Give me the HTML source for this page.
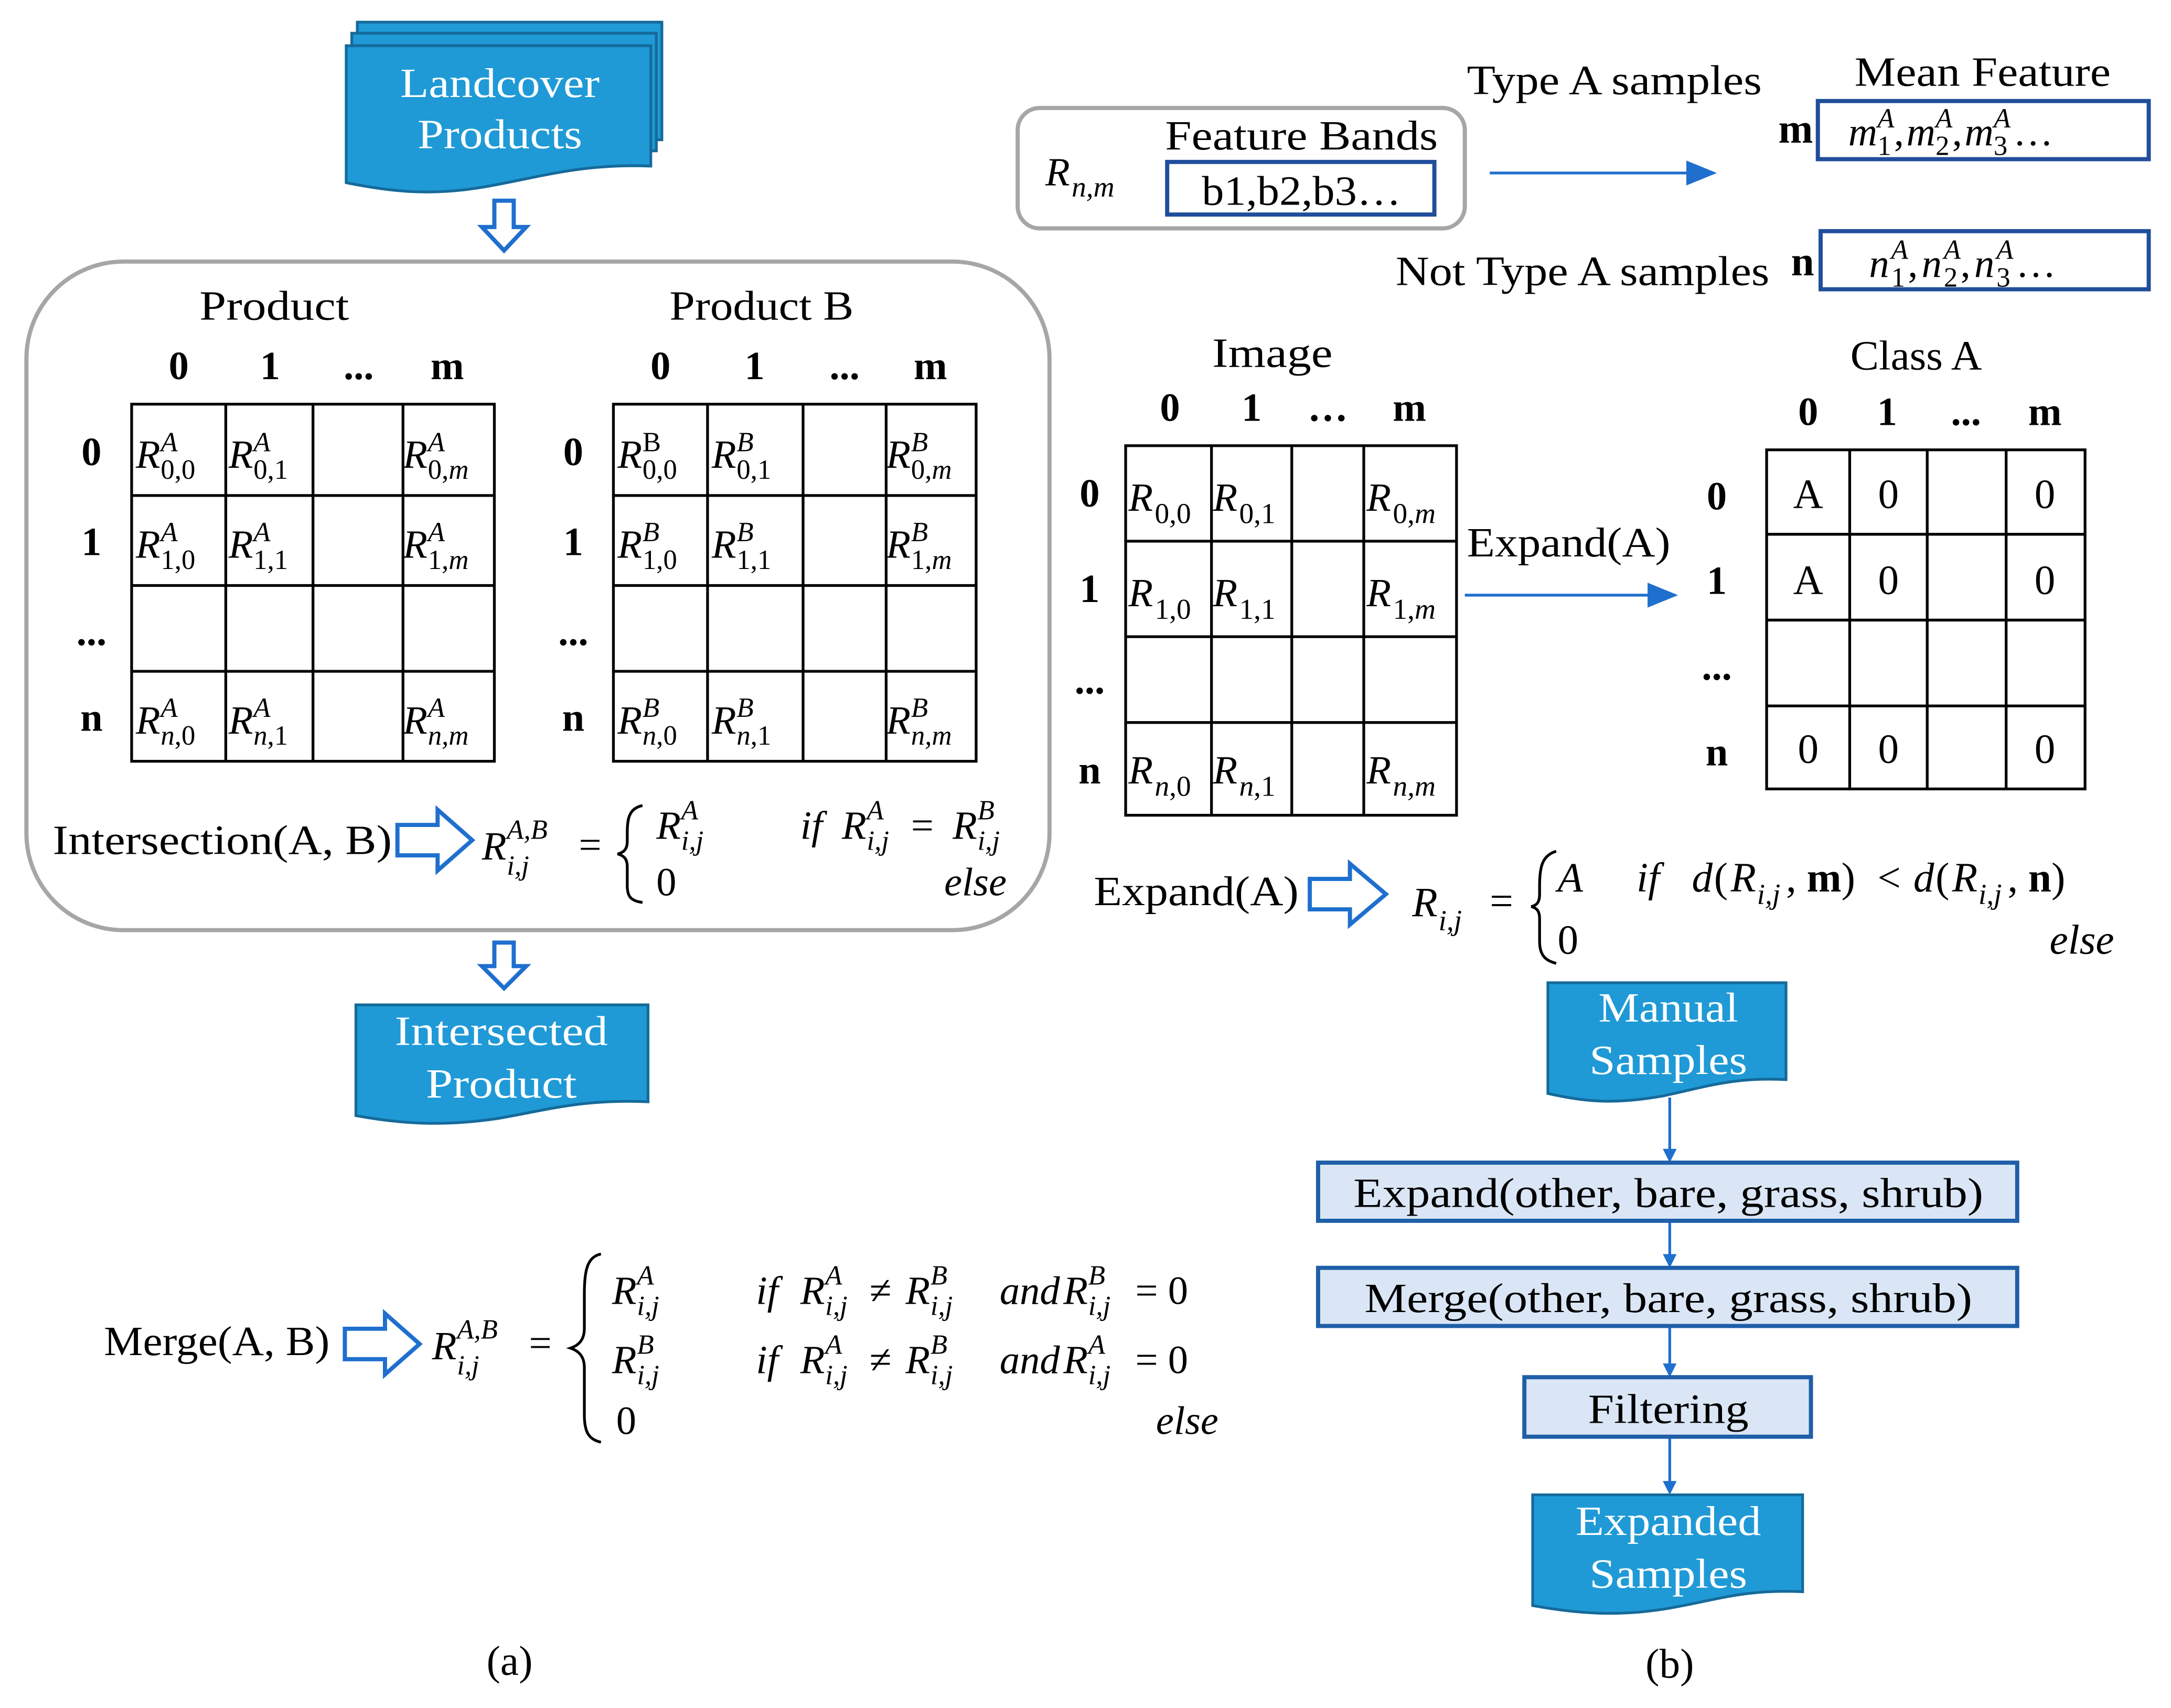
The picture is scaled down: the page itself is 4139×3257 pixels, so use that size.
<!DOCTYPE html>
<html><head><meta charset="utf-8"><style>
html,body{margin:0;padding:0;background:#fff;}
svg{display:block}
text{font-family:"Liberation Serif",serif;fill:#000}
.i{font-style:italic}
.b{font-weight:bold}
.w{fill:#fff}
</style></head><body>
<svg width="4139" height="3257" viewBox="0 0 1568 1234" xmlns="http://www.w3.org/2000/svg">
<defs>
<marker id="ah" markerWidth="10" markerHeight="10" refX="8" refY="5" orient="auto" markerUnits="userSpaceOnUse"><path d="M0,0 L10,5 L0,10 Z" fill="#1f6fce"/></marker>
<marker id="ah2" markerWidth="22" markerHeight="18" refX="20" refY="9" orient="auto" markerUnits="userSpaceOnUse"><path d="M0,0 L22,9 L0,18 Z" fill="#1f6fce"/></marker>
</defs>
<rect width="1568" height="1234" fill="#fff"/>

<!-- Landcover products -->
<g stroke="#156a9a" stroke-width="2" fill="#1f9ad6">
<rect x="258" y="16" width="220" height="85"/>
<rect x="254" y="24" width="220" height="85"/>
<path d="M250,33 H470 V120 C420,118 390,128 350,135 C310,142 280,138 250,132 Z"/>
</g>
<text x="361" y="70" font-size="30" text-anchor="middle" class="w" textLength="144" lengthAdjust="spacingAndGlyphs">Landcover</text>
<text x="361" y="107" font-size="30" text-anchor="middle" class="w" textLength="119" lengthAdjust="spacingAndGlyphs">Products</text>

<path d="M357,145 H371 V164 H380 L364,181 L348,164 H357 Z" fill="#fff" stroke="#1f6fce" stroke-width="3"/>
<path d="M357,681 H371 V698 H380 L364,714 L348,698 H357 Z" fill="#fff" stroke="#1f6fce" stroke-width="3"/>

<rect x="19" y="189" width="739" height="483" rx="70" fill="none" stroke="#a6a6a6" stroke-width="3"/>
<text x="198" y="231" font-size="30" text-anchor="middle" textLength="108" lengthAdjust="spacingAndGlyphs">Product</text>
<text x="550" y="231" font-size="30" text-anchor="middle" textLength="133" lengthAdjust="spacingAndGlyphs">Product B</text>
<g font-size="29" text-anchor="middle">
<text x="129" y="274" class="b">0</text><text x="195" y="274" class="b">1</text><text x="259" y="274" class="b">...</text><text x="323" y="274" class="b">m</text>
<text x="477" y="274" class="b">0</text><text x="545" y="274" class="b">1</text><text x="610" y="274" class="b">...</text><text x="672" y="274" class="b">m</text>
<text x="66" y="336" class="b">0</text><text x="66" y="401" class="b">1</text><text x="66" y="466" class="b">...</text><text x="66" y="528" class="b">n</text>
<text x="414" y="336" class="b">0</text><text x="414" y="401" class="b">1</text><text x="414" y="466" class="b">...</text><text x="414" y="528" class="b">n</text>
</g>
<g stroke="#000" stroke-width="2" fill="none">
<rect x="95" y="292" width="262" height="258"/>
<path d="M163,292V550M226,292V550M291,292V550M95,358H357M95,423H357M95,485H357"/>
<rect x="443" y="292" width="262" height="258"/>
<path d="M511,292V550M580,292V550M640,292V550M443,358H705M443,423H705M443,485H705"/>
</g>
<g font-size="29">
<text x="98" y="338" class="i">R</text><text x="116" y="326" font-size="20" class="i">A</text><text x="116" y="346" font-size="20">0,0</text>
<text x="165" y="338" class="i">R</text><text x="183" y="326" font-size="20" class="i">A</text><text x="183" y="346" font-size="20">0,1</text>
<text x="291" y="338" class="i">R</text><text x="309" y="326" font-size="20" class="i">A</text><text x="309" y="346" font-size="20">0,<tspan class="i">m</tspan></text>
<text x="98" y="403" class="i">R</text><text x="116" y="391" font-size="20" class="i">A</text><text x="116" y="411" font-size="20">1,0</text>
<text x="165" y="403" class="i">R</text><text x="183" y="391" font-size="20" class="i">A</text><text x="183" y="411" font-size="20">1,1</text>
<text x="291" y="403" class="i">R</text><text x="309" y="391" font-size="20" class="i">A</text><text x="309" y="411" font-size="20">1,<tspan class="i">m</tspan></text>
<text x="98" y="530" class="i">R</text><text x="116" y="518" font-size="20" class="i">A</text><text x="116" y="538" font-size="20"><tspan class="i">n</tspan>,0</text>
<text x="165" y="530" class="i">R</text><text x="183" y="518" font-size="20" class="i">A</text><text x="183" y="538" font-size="20"><tspan class="i">n</tspan>,1</text>
<text x="291" y="530" class="i">R</text><text x="309" y="518" font-size="20" class="i">A</text><text x="309" y="538" font-size="20" class="i">n,m</text>
<text x="446" y="338" class="i">R</text><text x="464" y="326" font-size="20">B</text><text x="464" y="346" font-size="20">0,0</text>
<text x="514" y="338" class="i">R</text><text x="532" y="326" font-size="20" class="i">B</text><text x="532" y="346" font-size="20">0,1</text>
<text x="640" y="338" class="i">R</text><text x="658" y="326" font-size="20" class="i">B</text><text x="658" y="346" font-size="20">0,<tspan class="i">m</tspan></text>
<text x="446" y="403" class="i">R</text><text x="464" y="391" font-size="20" class="i">B</text><text x="464" y="411" font-size="20">1,0</text>
<text x="514" y="403" class="i">R</text><text x="532" y="391" font-size="20" class="i">B</text><text x="532" y="411" font-size="20">1,1</text>
<text x="640" y="403" class="i">R</text><text x="658" y="391" font-size="20" class="i">B</text><text x="658" y="411" font-size="20">1,<tspan class="i">m</tspan></text>
<text x="446" y="530" class="i">R</text><text x="464" y="518" font-size="20" class="i">B</text><text x="464" y="538" font-size="20"><tspan class="i">n</tspan>,0</text>
<text x="514" y="530" class="i">R</text><text x="532" y="518" font-size="20" class="i">B</text><text x="532" y="538" font-size="20"><tspan class="i">n</tspan>,1</text>
<text x="640" y="530" class="i">R</text><text x="658" y="518" font-size="20" class="i">B</text><text x="658" y="538" font-size="20" class="i">n,m</text>
</g>

<!-- Intersection formula -->
<text x="38" y="617" font-size="30" textLength="245" lengthAdjust="spacingAndGlyphs">Intersection(A, B)</text>
<path d="M287,596 H316 V585 L341,607 L316,629 V618 H287 Z" fill="#fff" stroke="#1f6fce" stroke-width="3"/>
<g font-size="29">
<text x="348" y="621" class="i">R</text><text x="366" y="606" font-size="20" class="i">A,B</text><text x="366" y="632" font-size="20" class="i">i,j</text>
<text x="418" y="620">=</text>
<path d="M464,582 C454,584 453,592 453,602 L453,608 C453,614 450,616 446,617 C450,618 453,620 453,626 L453,640 C453,648 456,651 464,652" fill="none" stroke="#000" stroke-width="2"/>
<text x="474" y="606" class="i">R</text><text x="492" y="592" font-size="20" class="i">A</text><text x="492" y="614" font-size="20" class="i">i,j</text>
<text x="474" y="647">0</text>
<text x="578" y="606" class="i">if</text>
<text x="608" y="606" class="i">R</text><text x="626" y="592" font-size="20" class="i">A</text><text x="626" y="614" font-size="20" class="i">i,j</text>
<text x="658" y="606">=</text>
<text x="688" y="606" class="i">R</text><text x="706" y="592" font-size="20" class="i">B</text><text x="706" y="614" font-size="20" class="i">i,j</text>
<text x="727" y="647" class="i" text-anchor="end">else</text>
</g>

<path d="M257,726 H468 V796 C420,794 395,802 360,808 C320,814 290,812 257,806 Z" fill="#1f9ad6" stroke="#156a9a" stroke-width="2"/>
<text x="362" y="755" font-size="30" text-anchor="middle" class="w" textLength="154" lengthAdjust="spacingAndGlyphs">Intersected</text>
<text x="362" y="793" font-size="30" text-anchor="middle" class="w" textLength="109" lengthAdjust="spacingAndGlyphs">Product</text>

<!-- Merge formula -->
<text x="75" y="979" font-size="30" textLength="163" lengthAdjust="spacingAndGlyphs">Merge(A, B)</text>
<path d="M249,960 H278 V949 L303,971 L278,993 V982 H249 Z" fill="#fff" stroke="#1f6fce" stroke-width="3"/>
<g font-size="29">
<text x="312" y="982" class="i">R</text><text x="330" y="967" font-size="20" class="i">A,B</text><text x="330" y="993" font-size="20" class="i">i,j</text>
<text x="382" y="980">=</text>
<path d="M434,906 C424,908 422,918 422,935 L422,960 C422,968 418,972 412,974 C418,976 422,980 422,988 L422,1022 C422,1036 426,1040 434,1042" fill="none" stroke="#000" stroke-width="2"/>
<text x="442" y="942" class="i">R</text><text x="460" y="928" font-size="20" class="i">A</text><text x="460" y="950" font-size="20" class="i">i,j</text>
<text x="442" y="992" class="i">R</text><text x="460" y="978" font-size="20" class="i">B</text><text x="460" y="1000" font-size="20" class="i">i,j</text>
<text x="445" y="1036">0</text>
<text x="546" y="942" class="i">if</text>
<text x="578" y="942" class="i">R</text><text x="596" y="928" font-size="20" class="i">A</text><text x="596" y="950" font-size="20" class="i">i,j</text>
<text x="628" y="942">≠</text>
<text x="654" y="942" class="i">R</text><text x="672" y="928" font-size="20" class="i">B</text><text x="672" y="950" font-size="20" class="i">i,j</text>
<text x="722" y="942" class="i">and</text>
<text x="768" y="942" class="i">R</text><text x="786" y="928" font-size="20" class="i">B</text><text x="786" y="950" font-size="20" class="i">i,j</text>
<text x="820" y="942">= 0</text>
<text x="546" y="992" class="i">if</text>
<text x="578" y="992" class="i">R</text><text x="596" y="978" font-size="20" class="i">A</text><text x="596" y="1000" font-size="20" class="i">i,j</text>
<text x="628" y="992">≠</text>
<text x="654" y="992" class="i">R</text><text x="672" y="978" font-size="20" class="i">B</text><text x="672" y="1000" font-size="20" class="i">i,j</text>
<text x="722" y="992" class="i">and</text>
<text x="768" y="992" class="i">R</text><text x="786" y="978" font-size="20" class="i">A</text><text x="786" y="1000" font-size="20" class="i">i,j</text>
<text x="820" y="992">= 0</text>
<text x="880" y="1036" class="i" text-anchor="end">else</text>
</g>
<text x="368" y="1210" font-size="30" text-anchor="middle">(a)</text>
<text x="1206" y="1212" font-size="30" text-anchor="middle">(b)</text>

<!-- Right top -->
<rect x="735" y="78" width="323" height="87" rx="16" fill="none" stroke="#a6a6a6" stroke-width="3"/>
<text x="755" y="134" font-size="29" class="i">R</text><text x="774" y="142" font-size="21" class="i">n,m</text>
<text x="940" y="108" font-size="30" text-anchor="middle" textLength="197" lengthAdjust="spacingAndGlyphs">Feature Bands</text>
<rect x="843" y="117" width="193" height="38" fill="none" stroke="#1f4e9a" stroke-width="3"/>
<text x="940" y="148" font-size="30" text-anchor="middle" textLength="144" lengthAdjust="spacingAndGlyphs">b1,b2,b3…</text>
<line x1="1076" y1="125" x2="1238" y2="125" stroke="#1f6fce" stroke-width="2" marker-end="url(#ah2)"/>
<text x="1166" y="68" font-size="30" text-anchor="middle" textLength="213" lengthAdjust="spacingAndGlyphs">Type A samples</text>
<text x="1432" y="62" font-size="30" text-anchor="middle" textLength="185" lengthAdjust="spacingAndGlyphs">Mean Feature</text>
<text x="1297" y="103" font-size="30" class="b" text-anchor="middle">m</text>
<rect x="1313" y="73" width="239" height="42" fill="none" stroke="#1f4e9a" stroke-width="3"/>
<g font-size="29">
<text x="1335" y="105" class="i">m</text><text x="1356" y="92" font-size="20" class="i">A</text><text x="1356" y="112" font-size="20">1</text>
<text x="1368" y="105">,</text>
<text x="1377" y="105" class="i">m</text><text x="1398" y="92" font-size="20" class="i">A</text><text x="1398" y="112" font-size="20">2</text>
<text x="1410" y="105">,</text>
<text x="1419" y="105" class="i">m</text><text x="1440" y="92" font-size="20" class="i">A</text><text x="1440" y="112" font-size="20">3</text>
<text x="1454" y="105">…</text>
</g>
<text x="1143" y="206" font-size="30" text-anchor="middle" textLength="270" lengthAdjust="spacingAndGlyphs">Not Type A samples</text>
<text x="1302" y="199" font-size="30" class="b" text-anchor="middle">n</text>
<rect x="1315" y="167" width="237" height="42" fill="none" stroke="#1f4e9a" stroke-width="3"/>
<g font-size="29">
<text x="1350" y="200" class="i">n</text><text x="1366" y="187" font-size="20" class="i">A</text><text x="1366" y="207" font-size="20">1</text>
<text x="1378" y="200">,</text>
<text x="1388" y="200" class="i">n</text><text x="1404" y="187" font-size="20" class="i">A</text><text x="1404" y="207" font-size="20">2</text>
<text x="1416" y="200">,</text>
<text x="1426" y="200" class="i">n</text><text x="1442" y="187" font-size="20" class="i">A</text><text x="1442" y="207" font-size="20">3</text>
<text x="1456" y="200">…</text>
</g>

<!-- Image grid -->
<text x="919" y="265" font-size="30" text-anchor="middle" textLength="87" lengthAdjust="spacingAndGlyphs">Image</text>
<text x="1384" y="267" font-size="30" text-anchor="middle" textLength="95" lengthAdjust="spacingAndGlyphs">Class A</text>
<g font-size="29" text-anchor="middle">
<text x="845" y="304" class="b">0</text><text x="904" y="304" class="b">1</text><text x="959" y="304" class="b">…</text><text x="1018" y="304" class="b">m</text>
<text x="787" y="366" class="b">0</text><text x="787" y="435" class="b">1</text><text x="787" y="501" class="b">...</text><text x="787" y="566" class="b">n</text>
<text x="1306" y="307" class="b">0</text><text x="1363" y="307" class="b">1</text><text x="1420" y="307" class="b">...</text><text x="1477" y="307" class="b">m</text>
<text x="1240" y="368" class="b">0</text><text x="1240" y="429" class="b">1</text><text x="1240" y="491" class="b">...</text><text x="1240" y="553" class="b">n</text>
</g>
<g stroke="#000" stroke-width="2" fill="none">
<rect x="813" y="322" width="239" height="267"/>
<path d="M875,322V589M933,322V589M985,322V589M813,391H1052M813,460H1052M813,522H1052"/>
<rect x="1276" y="325" width="230" height="245"/>
<path d="M1336,325V570M1392,325V570M1449,325V570M1276,386H1506M1276,448H1506M1276,510H1506"/>
</g>
<g font-size="29">
<text x="815" y="369" class="i">R</text><text x="834" y="378" font-size="21">0,0</text>
<text x="876" y="369" class="i">R</text><text x="895" y="378" font-size="21">0,1</text>
<text x="987" y="369" class="i">R</text><text x="1006" y="378" font-size="21">0,<tspan class="i">m</tspan></text>
<text x="815" y="438" class="i">R</text><text x="834" y="447" font-size="21">1,0</text>
<text x="876" y="438" class="i">R</text><text x="895" y="447" font-size="21">1,1</text>
<text x="987" y="438" class="i">R</text><text x="1006" y="447" font-size="21">1,<tspan class="i">m</tspan></text>
<text x="815" y="566" class="i">R</text><text x="834" y="575" font-size="21"><tspan class="i">n</tspan>,0</text>
<text x="876" y="566" class="i">R</text><text x="895" y="575" font-size="21"><tspan class="i">n</tspan>,1</text>
<text x="987" y="566" class="i">R</text><text x="1006" y="575" font-size="21" class="i">n,m</text>
</g>
<g font-size="30" text-anchor="middle">
<text x="1306" y="367">A</text><text x="1364" y="367">0</text><text x="1477" y="367">0</text>
<text x="1306" y="429">A</text><text x="1364" y="429">0</text><text x="1477" y="429">0</text>
<text x="1306" y="551">0</text><text x="1364" y="551">0</text><text x="1477" y="551">0</text>
</g>
<text x="1133" y="402" font-size="30" text-anchor="middle" textLength="147" lengthAdjust="spacingAndGlyphs">Expand(A)</text>
<line x1="1058" y1="430" x2="1210" y2="430" stroke="#1f6fce" stroke-width="2" marker-end="url(#ah2)"/>

<!-- Expand formula -->
<text x="790" y="654" font-size="30" textLength="148" lengthAdjust="spacingAndGlyphs">Expand(A)</text>
<path d="M946,635 H975 V624 L1001,646 L975,668 V657 H946 Z" fill="#fff" stroke="#1f6fce" stroke-width="3"/>
<g font-size="30">
<text x="1020" y="662" class="i">R</text><text x="1039" y="672" font-size="21" class="i">i,j</text>
<text x="1076" y="661">=</text>
<path d="M1124,615 C1114,618 1112,626 1112,640 L1112,646 C1112,652 1110,654 1106,655 C1110,656 1112,658 1112,664 L1112,680 C1112,690 1116,694 1124,696" fill="none" stroke="#000" stroke-width="2"/>
<text x="1125" y="644" class="i">A</text>
<text x="1182" y="644" class="i">if</text>
<text x="1222" y="644" class="i">d</text>
<text x="1238" y="644">(</text>
<text x="1250" y="644" class="i">R</text><text x="1269" y="653" font-size="21" class="i">i,j</text>
<text x="1290" y="644">, <tspan class="b">m</tspan>)</text>
<text x="1356" y="644">&lt;</text>
<text x="1382" y="644" class="i">d</text>
<text x="1398" y="644">(</text>
<text x="1410" y="644" class="i">R</text><text x="1429" y="653" font-size="21" class="i">i,j</text>
<text x="1450" y="644">, <tspan class="b">n</tspan>)</text>
<text x="1125" y="689">0</text>
<text x="1527" y="689" class="i" text-anchor="end">else</text>
</g>

<!-- Flow -->
<path d="M1118,710 H1290 V780 C1250,778 1230,786 1200,792 C1165,798 1145,796 1118,790 Z" fill="#1f9ad6" stroke="#156a9a" stroke-width="2"/>
<text x="1205" y="738" font-size="30" text-anchor="middle" class="w" textLength="101" lengthAdjust="spacingAndGlyphs">Manual</text>
<text x="1205" y="776" font-size="30" text-anchor="middle" class="w" textLength="114" lengthAdjust="spacingAndGlyphs">Samples</text>
<g stroke="#1f6fce" stroke-width="2" marker-end="url(#ah)">
<line x1="1206" y1="793" x2="1206" y2="838"/>
<line x1="1206" y1="882" x2="1206" y2="914"/>
<line x1="1206" y1="958" x2="1206" y2="993"/>
<line x1="1206" y1="1038" x2="1206" y2="1078"/>
</g>
<rect x="952" y="840" width="505" height="42" fill="#dae6f5" stroke="#1f5fa8" stroke-width="3"/>
<text x="1205" y="872" font-size="30" text-anchor="middle" textLength="455" lengthAdjust="spacingAndGlyphs">Expand(other, bare, grass, shrub)</text>
<rect x="952" y="916" width="505" height="42" fill="#dae6f5" stroke="#1f5fa8" stroke-width="3"/>
<text x="1205" y="948" font-size="30" text-anchor="middle" textLength="439" lengthAdjust="spacingAndGlyphs">Merge(other, bare, grass, shrub)</text>
<rect x="1101" y="995" width="207" height="43" fill="#dae6f5" stroke="#1f5fa8" stroke-width="3"/>
<text x="1205" y="1028" font-size="30" text-anchor="middle" textLength="116" lengthAdjust="spacingAndGlyphs">Filtering</text>
<path d="M1107,1080 H1302 V1150 C1260,1148 1240,1156 1205,1162 C1170,1168 1140,1166 1107,1160 Z" fill="#1f9ad6" stroke="#156a9a" stroke-width="2"/>
<text x="1205" y="1109" font-size="30" text-anchor="middle" class="w" textLength="134" lengthAdjust="spacingAndGlyphs">Expanded</text>
<text x="1205" y="1147" font-size="30" text-anchor="middle" class="w" textLength="114" lengthAdjust="spacingAndGlyphs">Samples</text>
</svg>
</body></html>
